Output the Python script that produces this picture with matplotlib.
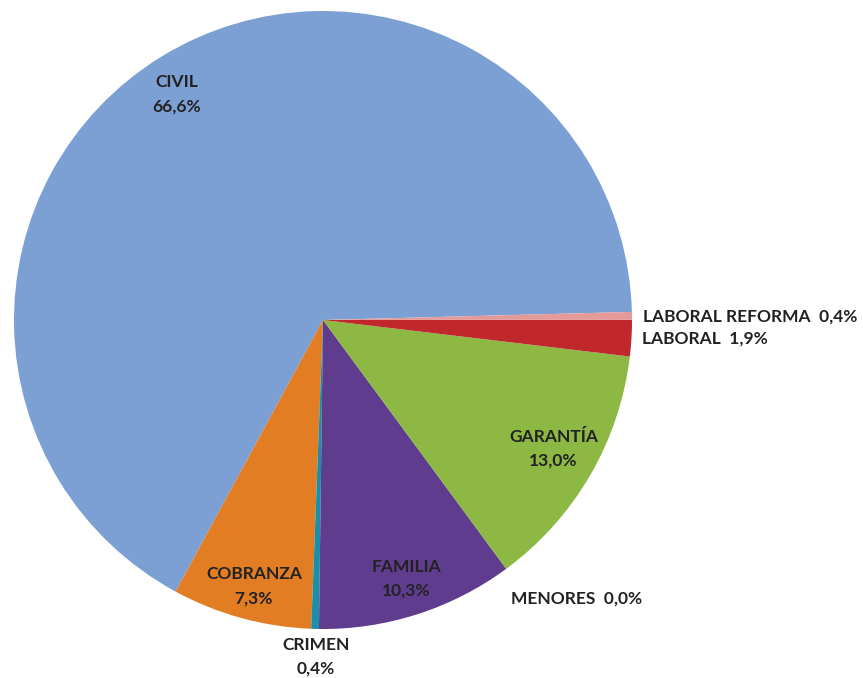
import numpy as np
import matplotlib.pyplot as plt

categorias = ['CIVIL', 'COBRANZA', 'CRIMEN', 'FAMILIA', 'MENORES', 'GARANTÍA', 'LABORAL', 'LABORAL REFORMA']
porcentajes = [66.6, 7.3, 0.4, 10.3, 0.0, 13.0, 1.9, 0.4]
colores = ['#7c9fd4', '#e27d24', '#1a8fa6', '#603c8f', '#9bbb59', '#8cb843', '#c0282c', '#e59a9a']
etiquetas = ['CIVIL\n66,6%', 'COBRANZA\n7,3%', 'CRIMEN\n0,4%', 'FAMILIA\n10,3%',
             'MENORES  0,0%', 'GARANTÍA\n13,0%', 'LABORAL  1,9%', 'LABORAL REFORMA  0,4%']
distancias = [0.87, 0.89, 1.09, 0.88, 1.22, 0.855, 1.035, 1.035]
ajuste_angulo = [1.4, 0.8, 0.3, 0, 6, 1, 0.1, -0.2]
alineacion = ['center', 'center', 'center', 'center', 'center', 'center', 'left', 'left']

fig = plt.figure(figsize=(8.63, 6.78), dpi=100)
W, H = 863, 678
cx, cy, R = 323, 320, 309
ax = fig.add_axes([(cx - R) / W, (H - cy - R) / H, 2 * R / W, 2 * R / H])

wedges, _ = ax.pie(porcentajes, colors=colores, startangle=1.5, counterclock=True,
                   radius=1, wedgeprops=dict(edgecolor='none', linewidth=0))
ax.set_xlim(-1, 1)
ax.set_ylim(-1, 1)
ax.axis('off')

for w, txt, d, da, ha in zip(wedges, etiquetas, distancias, ajuste_angulo, alineacion):
    ang = np.deg2rad((w.theta1 + w.theta2) / 2 + da)
    ax.text(d * np.cos(ang), d * np.sin(ang), txt, ha=ha, va='center',
            fontsize=12.5, fontweight='bold', family=['Lato', 'DejaVu Sans'],
            color='#222222', linespacing=1.6, clip_on=False)

fig.savefig('out.png', dpi=100)
